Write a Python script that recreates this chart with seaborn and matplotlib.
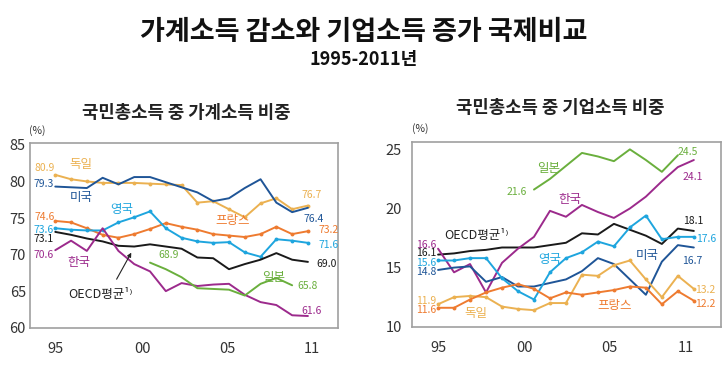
import numpy as np
import pandas as pd
import seaborn as sns
import matplotlib.pyplot as plt

sns.set_style('white')
plt.rcParams['font.family'] = ['Noto Sans CJK KR', 'DejaVu Sans']

# years on the x axis
years = list(range(1995, 2012))
japan_years = list(range(2001, 2011))

# household income share of GNI (%)
hh_germany = [80.9, 80.3, 80.0, 79.8, 79.8, 79.8, 79.7, 79.6, 79.5, 77.1, 77.3, 76.2, 75.1, 77.0, 77.7, 76.2, 76.7]
hh_usa = [79.3, 79.2, 79.1, 80.5, 79.6, 80.6, 80.6, 79.9, 79.2, 78.5, 77.3, 77.7, 79.1, 80.3, 77.1, 75.8, 76.4]
hh_france = [74.6, 74.4, 73.6, 72.7, 72.3, 72.8, 73.5, 74.3, 73.8, 73.4, 72.8, 72.6, 72.4, 72.8, 73.8, 72.8, 73.2]
hh_uk = [73.6, 73.4, 73.3, 73.3, 74.4, 75.1, 75.9, 73.6, 72.3, 71.8, 71.6, 71.7, 70.3, 69.7, 72.1, 71.9, 71.6]
hh_oecd = [73.1, 72.7, 72.2, 71.8, 71.2, 71.1, 71.4, 71.1, 70.8, 69.6, 69.5, 68.0, 68.7, 69.3, 70.2, 69.3, 69.0]
hh_korea = [70.6, 71.9, 70.5, 73.6, 70.5, 68.7, 67.7, 65.0, 66.1, 65.7, 65.9, 66.0, 64.5, 63.5, 63.1, 61.7, 61.6]
hh_japan = [68.9, 68.0, 66.9, 65.4, 65.3, 65.2, 64.4, 66.0, 66.8, 65.8]

# corporate income share of GNI (%)
corp_oecd = [16.1, 16.2, 16.4, 16.5, 16.7, 16.7, 16.7, 16.9, 17.1, 17.9, 17.8, 18.7, 18.2, 17.7, 17.0, 18.3, 18.1]
corp_korea = [16.6, 14.6, 15.3, 12.9, 15.4, 16.6, 17.6, 19.8, 19.3, 20.3, 19.7, 19.2, 20.0, 21.0, 22.3, 23.5, 24.1]
corp_usa = [14.8, 15.0, 15.1, 13.8, 14.2, 13.4, 13.4, 13.7, 14.0, 14.7, 15.8, 15.3, 14.0, 12.7, 15.5, 16.9, 16.7]
corp_uk = [15.6, 15.6, 15.8, 15.8, 14.1, 13.0, 12.3, 14.6, 15.8, 16.3, 17.2, 16.8, 18.4, 19.4, 17.4, 17.6, 17.6]
corp_germany = [11.9, 12.5, 12.6, 12.5, 11.7, 11.5, 11.4, 12.0, 12.0, 14.4, 14.3, 15.2, 15.6, 14.0, 12.5, 14.3, 13.2]
corp_france = [11.6, 11.6, 12.3, 12.9, 13.3, 13.6, 13.2, 12.4, 12.9, 12.7, 12.9, 13.1, 13.4, 13.3, 11.9, 13.0, 12.2]
corp_japan = [21.6, 22.5, 23.6, 24.7, 24.4, 24.0, 25.0, 24.1, 23.1, 24.5]

xtick_labels = ['95', '00', '05', '11']
xticks_left = [1995, 2000.5, 2005.9, 2011.25]
xticks_right = [1995, 2000.4, 2005.7, 2010.5]

c_gold = '#EBB151'
c_navy = '#1F5597'
c_orange = '#EE7B30'
c_cyan = '#1EA5DE'
c_black = '#1a1a1a'
c_purple = '#9C2A8C'
c_green = '#6AAF3D'

fig = plt.figure(figsize=(7.28, 3.71), dpi=100)
ax1 = fig.add_axes([0.0412, 0.1167, 0.423, 0.4987])
ax2 = fig.add_axes([0.5655, 0.1194, 0.4249, 0.4987])


def draw(ax, x, y, color, marker=False):
    sns.lineplot(x=x, y=y, ax=ax, color=color, lw=1.4,
                 marker='o' if marker else None, markersize=2.8,
                 markeredgewidth=0, legend=False)


# left panel: household share
draw(ax1, years, hh_germany, c_gold, True)
draw(ax1, years, hh_usa, c_navy)
draw(ax1, years, hh_france, c_orange, True)
draw(ax1, years, hh_uk, c_cyan, True)
draw(ax1, years, hh_oecd, c_black)
draw(ax1, years, hh_korea, c_purple)
draw(ax1, japan_years, hh_japan, c_green)

# right panel: corporate share
draw(ax2, years, corp_oecd, c_black)
draw(ax2, years, corp_korea, c_purple)
draw(ax2, years, corp_usa, c_navy)
draw(ax2, years, corp_uk, c_cyan, True)
draw(ax2, years, corp_germany, c_gold, True)
draw(ax2, years, corp_france, c_orange, True)
draw(ax2, japan_years, corp_japan, c_green)

ax1.set_xlim(1993.4, 2012.9)
ax1.set_ylim(60, 85.3)
ax1.set_yticks([60, 65, 70, 75, 80, 85])
ax2.set_xlim(1993.35, 2012.7)
ax2.set_ylim(10, 25.65)
ax2.set_yticks([10, 15, 20, 25])
ax1.set_xticks(xticks_left, xtick_labels)
ax2.set_xticks(xticks_right, xtick_labels)

for ax in (ax1, ax2):
    ax.set_xlabel('')
    ax.set_ylabel('')
    for s in ax.spines.values():
        s.set_color('#a0a0a0')
        s.set_linewidth(1.2)
    ax.tick_params(axis='x', direction='inout', length=6, width=0.8,
                   color='#888888', labelsize=10.5, labelcolor='#333333', pad=7)
ax1.tick_params(axis='y', direction='in', length=4, width=0.8, color='#888888',
                labelsize=10.5, labelcolor='#333333', pad=3)
ax2.tick_params(axis='y', direction='in', length=8, width=1.0, color='#333333',
                labelsize=10.5, labelcolor='#333333', pad=7)

ax1.text(0.023, 1.05, '(%)', transform=ax1.transAxes, fontsize=7.5, color='#333333', ha='center')
ax2.text(0.027, 1.052, '(%)', transform=ax2.transAxes, fontsize=7.5, color='#333333', ha='center')

fs = 7.5
kfs = 9
# left labels
left_labels = [
    ('80.9', 1994.95, 81.9, c_gold, 'right', fs),
    ('79.3', 1994.9, 79.7, c_navy, 'right', fs),
    ('74.6', 1994.95, 75.1, c_orange, 'right', fs),
    ('73.6', 1994.9, 73.4, c_cyan, 'right', fs),
    ('73.1', 1994.9, 72.1, c_black, 'right', fs),
    ('70.6', 1994.9, 70.0, c_purple, 'right', fs),
    ('독일', 1996.6, 82.3, c_gold, 'center', kfs),
    ('미국', 1996.65, 77.8, c_navy, 'center', kfs),
    ('영국', 1999.2, 76.1, c_cyan, 'center', kfs),
    ('한국', 1996.5, 68.9, c_purple, 'center', kfs),
    ('68.9', 2002.2, 69.95, c_green, 'center', fs),
    ('일본', 2008.8, 66.9, c_green, 'center', kfs),
    ('65.8', 2011.0, 65.7, c_green, 'center', fs),
    ('61.6', 2011.25, 62.3, c_purple, 'center', fs),
    ('69.0', 2012.2, 68.7, c_black, 'center', fs),
    ('71.6', 2012.3, 71.3, c_cyan, 'center', fs),
    ('73.2', 2012.3, 73.3, c_orange, 'center', fs),
    ('76.4', 2011.35, 74.9, c_navy, 'center', fs),
    ('76.7', 2011.25, 78.2, c_gold, 'center', fs),
    ('프랑스', 2006.2, 74.6, c_orange, 'center', kfs),
]
for t, x, y, c, ha, f in left_labels:
    ax1.text(x, y, t, color=c, ha=ha, va='center', fontsize=f)
ax1.text(1995.8, 64.6, 'OECD평균¹⁾', color='#222222', ha='left', va='center', fontsize=kfs)
ax1.annotate('', xy=(1999.9, 70.6), xytext=(1998.8, 66.3),
             arrowprops=dict(arrowstyle='-|>', color='#222222', lw=0.8, mutation_scale=6))

right_labels = [
    ('16.6', 1994.92, 16.95, c_purple, 'right', fs),
    ('16.1', 1994.92, 16.2, c_black, 'right', fs),
    ('15.6', 1994.92, 15.4, c_cyan, 'right', fs),
    ('14.8', 1994.92, 14.6, c_navy, 'right', fs),
    ('11.9', 1994.92, 12.2, c_gold, 'right', fs),
    ('11.6', 1994.92, 11.45, c_orange, 'right', fs),
    ('독일', 1997.35, 11.1, c_gold, 'center', kfs),
    ('21.6', 1999.94, 21.43, c_green, 'center', fs),
    ('일본', 2001.9, 23.4, c_green, 'center', kfs),
    ('한국', 2003.26, 20.75, c_purple, 'center', kfs),
    ('영국', 2002.0, 15.7, c_cyan, 'center', kfs),
    ('미국', 2008.1, 16.0, c_navy, 'center', kfs),
    ('프랑스', 2006.04, 11.8, c_orange, 'center', kfs),
    ('24.5', 2010.6, 24.77, c_green, 'center', fs),
    ('24.1', 2010.9, 22.68, c_purple, 'center', fs),
    ('18.1', 2010.96, 18.92, c_black, 'center', fs),
    ('17.6', 2011.77, 17.44, c_cyan, 'center', fs),
    ('16.7', 2010.9, 15.54, c_navy, 'center', fs),
    ('13.2', 2011.74, 13.07, c_gold, 'center', fs),
    ('12.2', 2011.74, 11.88, c_orange, 'center', fs),
]
for t, x, y, c, ha, f in right_labels:
    ax2.text(x, y, t, color=c, ha=ha, va='center', fontsize=f)
ax2.text(1995.4, 17.7, 'OECD평균¹⁾', color='#222222', ha='left', va='center', fontsize=kfs)

# titles
fig.text(0.5, 1 - 31.7 / 371, '가계소득 감소와 기업소득 증가 국제비교', ha='center', va='center',
         fontsize=19.5, fontweight='bold', color='#111111')
fig.text(0.5, 1 - 60 / 371, '1995-2011년', ha='center', va='center',
         fontsize=13, fontweight='bold', color='#111111')
fig.text(186 / 728, 1 - 113.3 / 371, '국민총소득 중 가계소득 비중', ha='center', va='center',
         fontsize=12.8, fontweight='bold', color='#222222')
fig.text(560 / 728, 1 - 108.3 / 371, '국민총소득 중 기업소득 비중', ha='center', va='center',
         fontsize=12.8, fontweight='bold', color='#222222')

fig.savefig('out.png', dpi=100)
